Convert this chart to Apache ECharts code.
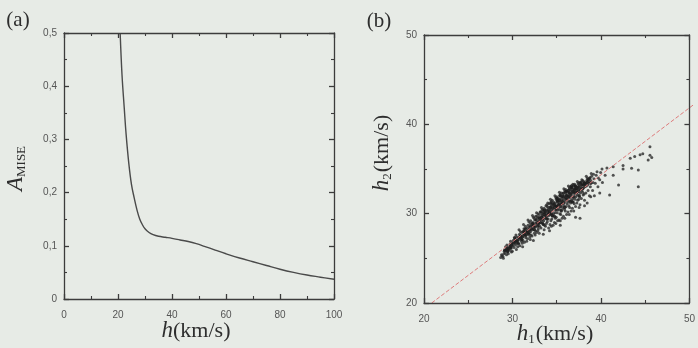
<!DOCTYPE html>
<html>
<head>
<meta charset="utf-8">
<script src="https://cdn.jsdelivr.net/npm/echarts@6/dist/echarts.min.js"></script>
<style>
  html, body { margin: 0; padding: 0; background: #e7ebe6; }
  #wrap { position: relative; width: 698px; height: 348px; }
  .layer { position: absolute; left: 0; top: 0; width: 698px; height: 348px; }
  .frame { pointer-events: none; }
</style>
</head>
<body>
<div id="wrap">
  <div class="layer" id="plot"></div>
  <div class="layer frame" id="frameA"></div>
  <div class="layer frame" id="frameB"></div>
</div>
<script>
// Panel (a): A_MISE as a function of the smoothing width h (km/s)
const hValues = [20.8, 21.5, 22.3, 23.0, 24.0, 25.0, 26.0, 27.0, 28.0, 29.0, 30.0, 31.5, 33.0, 35.0, 37.5,
  40.0, 43.0, 46.0, 49.0, 52.0, 56.0, 60.0, 65.0, 70.0, 75.0, 80.0, 85.0, 90.0, 95.0, 100];
const amiseValues = [0.5, 0.42, 0.36, 0.31, 0.255, 0.215, 0.19, 0.168, 0.151, 0.140, 0.132, 0.125, 0.121, 0.118, 0.116,
  0.114, 0.111, 0.108, 0.104, 0.099, 0.092, 0.085, 0.077, 0.070, 0.063, 0.056, 0.050, 0.045, 0.041, 0.037];
const aXTickLabels = ['0', '20', '40', '60', '80', '100'];
const aYTickLabels = ['0', '0,1', '0,2', '0,3', '0,4', '0,5'];

// Panel (b): h2 against h1 for each realisation, plus reference line
const cloudPoints = [
  [28.55,25.1],[28.7,25.3],[28.8,25.2],[28.9,25.5],[28.65,25.4],[28.95,25.8],[28.85,25.0],
  [29.05,25.6],[29.15,25.9],[29.2,25.4],[29.3,26.2],[29.35,25.7],[29.45,26.0],[29.1,26.3],[29.4,25.5],[29.25,26.5],
  [29.55,25.9],[29.6,26.4],[29.7,26.1],[29.8,26.7],[29.85,25.8],[29.9,26.4],[29.65,26.9],[29.75,25.7],[29.95,27.0],[29.6,26.6],
  [30.05,26.2],[30.1,26.8],[30.15,27.2],[30.2,26.5],[30.3,26.0],[30.35,27.4],[30.4,26.9],[30.45,26.3],[30.25,27.6],[30.3,26.7],[30.1,27.0],
  [30.55,26.6],[30.6,27.1],[30.65,27.7],[30.7,26.4],[30.75,28.0],[30.8,27.4],[30.85,26.9],[30.9,27.9],[30.95,26.7],[30.7,27.5],[30.6,28.2],[30.85,27.2],
  [31.05,27.0],[31.1,27.6],[31.15,28.3],[31.2,26.8],[31.25,27.9],[31.3,28.6],[31.35,27.3],[31.4,28.0],[31.45,26.9],[31.1,28.8],[31.3,27.5],[31.45,28.4],[31.2,28.1],
  [31.55,27.2],[31.6,28.7],[31.65,27.8],[31.7,29.1],[31.75,28.3],[31.8,27.4],[31.85,28.9],[31.9,28.0],[31.95,27.6],[31.6,29.3],[31.7,28.5],[31.85,27.1],[31.9,29.2],[31.75,27.9],
  [32.05,27.5],[32.1,28.2],[32.15,29.0],[32.2,29.6],[32.25,28.6],[32.3,27.8],[32.35,29.3],[32.4,28.9],[32.45,28.1],[32.1,29.8],[32.2,28.4],[32.3,29.5],[32.4,27.6],[32.45,29.7],[32.15,28.8],
  [32.55,27.9],[32.6,28.8],[32.65,29.5],[32.7,30.0],[32.75,28.3],[32.8,29.2],[32.85,29.9],[32.9,28.6],[32.95,30.2],[32.6,29.7],[32.7,28.1],[32.8,29.6],[32.9,29.3],[32.55,30.1],[32.85,27.8],[32.75,29.0],
  [33.05,28.4],[33.1,29.3],[33.15,30.0],[33.2,30.5],[33.25,28.9],[33.3,29.7],[33.35,30.3],[33.4,28.2],[33.45,29.5],[33.1,30.7],[33.2,29.0],[33.3,30.1],[33.4,30.6],[33.45,28.7],[33.15,29.8],[33.35,29.2],[33.25,30.4],
  [33.55,28.6],[33.6,29.5],[33.65,30.4],[33.7,31.0],[33.75,29.1],[33.8,30.0],[33.85,30.7],[33.9,28.4],[33.95,29.8],[33.6,30.9],[33.7,29.7],[33.8,31.2],[33.9,30.5],[33.55,30.2],[33.65,28.9],[33.85,29.4],[33.75,30.8],[33.95,31.1],
  [34.05,28.8],[34.1,29.9],[34.15,30.8],[34.2,31.4],[34.25,29.4],[34.3,30.3],[34.35,31.1],[34.4,28.7],[34.45,30.0],[34.1,31.6],[34.2,30.5],[34.3,31.5],[34.4,30.9],[34.05,30.4],[34.15,29.2],[34.35,29.7],[34.25,31.0],[34.45,31.3],[34.2,28.6],
  [34.55,29.0],[34.6,30.1],[34.65,31.2],[34.7,31.8],[34.75,29.6],[34.8,30.6],[34.85,31.5],[34.9,29.2],[34.95,30.4],[34.6,32.0],[34.7,30.9],[34.8,31.9],[34.9,31.3],[34.55,30.7],[34.65,29.5],[34.85,30.1],[34.75,31.6],[34.95,31.7],[34.7,28.9],[34.9,30.8],
  [35.05,29.3],[35.1,30.5],[35.15,31.6],[35.2,32.2],[35.25,29.9],[35.3,31.0],[35.35,31.9],[35.4,29.5],[35.45,30.7],[35.1,32.4],[35.2,31.3],[35.3,32.3],[35.4,31.7],[35.05,31.1],[35.15,30.0],[35.35,30.4],[35.25,32.0],[35.45,32.1],[35.2,29.2],[35.4,31.2],
  [35.55,29.7],[35.6,30.9],[35.65,32.0],[35.7,32.6],[35.75,30.3],[35.8,31.4],[35.85,32.3],[35.9,29.9],[35.95,31.1],[35.6,32.8],[35.7,31.7],[35.8,32.7],[35.9,32.1],[35.55,31.5],[35.65,30.5],[35.85,30.8],[35.75,32.4],[35.95,32.5],[35.7,29.5],[35.9,31.6],
  [36.05,30.2],[36.1,31.3],[36.15,32.4],[36.2,32.9],[36.25,30.7],[36.3,31.8],[36.35,32.7],[36.4,30.3],[36.45,31.5],[36.1,33.1],[36.2,32.1],[36.3,33.0],[36.4,32.5],[36.05,31.9],[36.15,30.9],[36.35,31.2],[36.25,32.8],[36.45,32.9],[36.2,29.9],[36.4,32.0],
  [36.55,30.6],[36.6,31.7],[36.65,32.7],[36.7,33.2],[36.75,31.1],[36.8,32.2],[36.85,33.0],[36.9,30.8],[36.95,31.9],[36.6,33.3],[36.7,32.4],[36.8,33.3],[36.9,32.8],[36.55,32.3],[36.65,31.3],[36.85,31.6],[36.75,33.1],[36.95,33.0],[36.7,30.3],
  [37.05,31.2],[37.1,32.1],[37.15,32.9],[37.2,33.4],[37.25,31.6],[37.3,32.5],[37.35,33.2],[37.4,31.0],[37.45,32.3],[37.1,33.6],[37.2,32.7],[37.3,33.5],[37.4,33.0],[37.05,32.6],[37.15,31.5],[37.35,31.9],[37.25,33.3],[37.45,33.4],[37.3,30.7],
  [37.55,31.7],[37.6,32.6],[37.65,33.3],[37.7,33.7],[37.75,32.1],[37.8,32.9],[37.85,33.5],[37.9,31.5],[37.95,33.0],[37.6,33.8],[37.7,32.4],[37.8,33.6],[37.9,33.3],[37.55,32.9],[37.85,32.2],
  [38.05,32.3],[38.1,33.1],[38.15,33.7],[38.2,34.0],[38.3,32.6],[38.35,33.4],[38.4,33.9],[38.45,32.0],[38.1,34.2],[38.25,33.2],[38.4,33.6],
  [38.55,33.0],[38.6,33.7],[38.7,34.2],[38.8,32.6],[38.85,33.5],[38.9,34.4],[38.65,34.5],[38.95,33.9],
  [39.1,33.4],[39.2,34.3],[39.3,34.7],[39.4,33.0],[39.45,34.0],
  [39.6,33.8],[39.7,34.6],[39.85,35.0],[39.9,33.5],
  [40.2,34.3],[40.4,35.1],[40.7,32.1],[41.1,35.25],[41.1,34.3],[41.7,33.2],[42.2,35.4],[42.2,35.0],
  [43.0,36.2],[43.15,35.07],[43.5,36.4],[43.9,34.9],[43.9,33.0],[44.1,36.6],[44.4,36.7],[45.0,36.0],
  [45.2,37.5],[45.2,36.55],[45.4,36.3],[39.6,32.3],
  [37.4,29.5],[36.9,29.6],[35.2,28.7],[38.2,31.2],[34.0,28.1],[33.3,27.7],[32.2,27.0],[31.0,26.3],
  [37.9,30.9],[38.6,31.9],[39.0,32.0]
];
// Densest part of the cloud, close to the reference line
const cloudCore = [
  [29.0,25.9],[29.2,26.0],[29.4,26.1],[29.6,26.3],[29.8,26.5],[29.3,25.8],[29.7,26.2],
  [30.0,26.7],[30.2,26.9],[30.4,27.0],[30.6,27.3],[30.8,27.5],[30.1,27.3],[30.5,26.7],[30.9,27.1],
  [31.0,27.4],[31.2,27.7],[31.4,27.6],[31.6,28.1],[31.8,28.2],[31.1,28.0],[31.5,27.9],[31.9,28.6],[31.3,28.3],[31.7,27.7],
  [32.0,28.3],[32.2,28.7],[32.4,28.5],[32.6,29.0],[32.8,28.9],[32.1,28.9],[32.5,29.3],[32.9,29.5],[32.3,28.2],[32.7,28.6],
  [33.0,29.0],[33.2,29.4],[33.4,29.9],[33.6,29.8],[33.8,30.3],[33.1,29.6],[33.5,30.1],[33.9,30.0],[33.3,28.8],[33.7,29.4],[33.05,30.2],[33.45,30.4],
  [34.0,30.2],[34.2,30.0],[34.4,30.6],[34.6,30.9],[34.8,30.8],[34.1,30.7],[34.5,31.1],[34.9,31.4],[34.3,29.8],[34.7,30.4],[34.15,31.2],[34.55,29.7],[34.85,31.7],
  [35.0,31.0],[35.2,30.8],[35.4,31.4],[35.6,31.2],[35.8,31.8],[35.1,31.5],[35.5,31.9],[35.9,32.0],[35.3,30.3],[35.7,30.7],[35.15,32.0],[35.55,32.3],[35.85,32.5],[35.35,31.1],
  [36.0,31.6],[36.2,32.3],[36.4,32.2],[36.6,32.5],[36.8,32.7],[36.1,32.6],[36.5,32.9],[36.9,33.1],[36.3,31.4],[36.7,31.9],[36.15,31.9],[36.55,31.3],[36.85,32.4],[36.45,33.1],
  [37.0,32.8],[37.2,33.0],[37.4,32.7],[37.6,33.2],[37.8,33.2],[37.1,32.4],[37.5,33.5],[37.3,32.0],[37.7,32.8],[37.9,33.4],
  [38.0,33.4],[38.3,33.8],[38.6,33.4],[38.2,33.5],[38.5,34.0]
];
const refLineX = [20.86, 50];
const refLineY = [20, 42.15];
const bTickLabels = ['20', '30', '40', '50'];

const serif = '"Liberation Serif", "DejaVu Serif", serif';
const frameColor = '#3c3c3c';
const gridA = { left: 64, top: 33, width: 270, height: 266 };
const gridB = { left: 424, top: 35, width: 269, height: 268 };

function labelFrom(list, min, step) {
  return function (v) {
    const i = Math.round((v - min) / step);
    return list[i] !== undefined ? list[i] : '';
  };
}

// Frame axis with inward major and minor ticks; one per side of the box
function frameAxis(pos, min, max, interval, fmt) {
  const isX = pos === 'bottom' || pos === 'top';
  return {
    type: 'value', gridIndex: 0, min, max, interval, position: pos,
    splitLine: { show: false },
    axisLine: { show: true, onZero: false, lineStyle: { color: frameColor, width: 1.3 } },
    axisTick: { show: true, inside: true, length: 5, lineStyle: { color: frameColor, width: 1.3 } },
    minorTick: { show: true, splitNumber: 2, length: 3, lineStyle: { color: frameColor, width: 1.1 } },
    axisLabel: fmt ? {
      show: true, color: '#555', fontSize: 10, margin: isX ? 11 : 7, formatter: fmt
    } : { show: false }
  };
}

// Plot box of one panel: its own instance, drawn over the data layer
function frameOption(grid, xr, yr, xFmt, yFmt) {
  return {
    animation: false,
    grid: [grid],
    xAxis: [frameAxis('bottom', xr[0], xr[1], xr[2], xFmt), frameAxis('top', xr[0], xr[1], xr[2])],
    yAxis: [frameAxis('left', yr[0], yr[1], yr[2], yFmt), frameAxis('right', yr[0], yr[1], yr[2])],
    series: [{ type: 'line', data: [], showSymbol: false }]
  };
}

// Hidden axes that carry the same scales for the data layer
function hiddenAxis(gridIndex, min, max) {
  return { type: 'value', gridIndex, min, max, show: false };
}

const ink = '#2e2e2e';
const titleStyle = (text, rich, size) => {
  const s = { text, fill: ink, font: (size || 22) + 'px ' + serif, align: 'center', verticalAlign: 'middle' };
  if (rich) s.rich = rich;
  return s;
};
const richDefs = {
  i: { fontStyle: 'italic', fontFamily: serif, fontSize: 23, color: ink },
  r: { fontFamily: serif, fontSize: 22, color: ink },
  s: { fontFamily: serif, fontSize: 13, color: ink, verticalAlign: 'bottom', padding: [12, 1, 0, 0] }
};

const plot = echarts.init(document.getElementById('plot'));
plot.setOption({
  animation: false,
  grid: [gridA, gridB],
  xAxis: [hiddenAxis(0, 0, 100), hiddenAxis(1, 20, 50)],
  yAxis: [hiddenAxis(0, 0, 0.5), hiddenAxis(1, 20, 50)],
  series: [
    {
      type: 'line', xAxisIndex: 0, yAxisIndex: 0,
      data: hValues.map((h, i) => [h, amiseValues[i]]),
      smooth: 0.4, showSymbol: false,
      lineStyle: { color: '#4a4a4a', width: 1.4 }
    },
    {
      type: 'scatter', xAxisIndex: 1, yAxisIndex: 1,
      data: cloudPoints,
      symbol: 'circle', symbolSize: 3,
      itemStyle: { color: '#2a2a2a', opacity: 0.8 }
    },
    {
      type: 'scatter', xAxisIndex: 1, yAxisIndex: 1,
      data: cloudCore,
      symbol: 'circle', symbolSize: 3.4,
      itemStyle: { color: '#1e1e1e', opacity: 0.9 }
    },
    {
      type: 'line', xAxisIndex: 1, yAxisIndex: 1,
      data: refLineX.map((x, i) => [x, refLineY[i]]),
      showSymbol: false,
      lineStyle: { color: '#dd7b7b', width: 1, type: 'dashed' }
    }
  ],
  graphic: [
    { type: 'text', x: 18, y: 20, style: titleStyle('(a)', null, 21) },
    { type: 'text', x: 379, y: 21, style: titleStyle('(b)', null, 21) },
    { type: 'text', x: 196, y: 331, style: titleStyle('{i|h}{r|(km/s)}', richDefs) },
    { type: 'text', x: 555, y: 334, style: titleStyle('{i|h}{s|1}{r|(km/s)}', richDefs) },
    { type: 'text', x: 16, y: 168, rotation: Math.PI / 2, style: titleStyle('{i|A}{s|MISE}', richDefs) },
    { type: 'text', x: 382, y: 153, rotation: Math.PI / 2, style: titleStyle('{i|h}{s|2}{r|(km/s)}', richDefs) }
  ]
});

echarts.init(document.getElementById('frameA')).setOption(
  frameOption(gridA, [0, 100, 20], [0, 0.5, 0.1], labelFrom(aXTickLabels, 0, 20), labelFrom(aYTickLabels, 0, 0.1)));
echarts.init(document.getElementById('frameB')).setOption(
  frameOption(gridB, [20, 50, 10], [20, 50, 10], labelFrom(bTickLabels, 20, 10), labelFrom(bTickLabels, 20, 10)));
</script>
</body>
</html>
